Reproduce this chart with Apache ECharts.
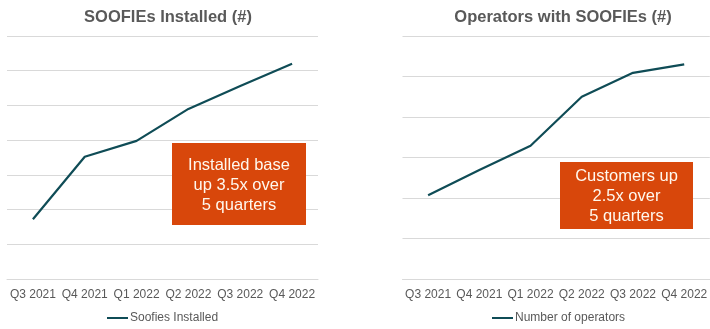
<!DOCTYPE html>
<html>
<head>
<meta charset="utf-8">
<script src="https://cdn.jsdelivr.net/npm/echarts@6/dist/echarts.min.js"></script>
<style>
  html, body { margin: 0; padding: 0; background: #fff; }
  #chart { width: 710px; height: 329px; }
</style>
</head>
<body>
<div id="chart"></div>
<script>
// Quarter labels shared by both panels
const quarters = ['Q3 2021', 'Q4 2021', 'Q1 2022', 'Q2 2022', 'Q3 2022', 'Q4 2022'];

// Installed SOOFIE units per quarter
const soofiesInstalled = [172, 352, 398, 490, 556, 620];

// Operators running SOOFIEs per quarter
const numberOfOperators = [20.7, 26.9, 32.9, 45, 50.9, 53];

const FONT = '"Liberation Sans", Arial, sans-serif';
const GREY = '#595959';
const GRID_LINE = '#d9d9d9';
const TEAL = '#0f4c56';
const ORANGE = '#d8470b';

const chart = echarts.init(document.getElementById('chart'), null, { renderer: 'canvas' });

function xAxis(gridIndex) {
  return {
    type: 'category',
    gridIndex,
    data: quarters,
    boundaryGap: true,
    axisLine: { show: true, lineStyle: { color: GRID_LINE, width: 1 } },
    axisTick: { show: false },
    axisLabel: { color: GREY, fontFamily: FONT, fontSize: 12, margin: 10, interval: 0 }
  };
}

function yAxis(gridIndex, max, interval) {
  return {
    type: 'value',
    gridIndex,
    min: 0,
    max,
    interval,
    axisLine: { show: false },
    axisTick: { show: false },
    axisLabel: { show: false },
    splitLine: { show: true, lineStyle: { color: GRID_LINE, width: 1 } }
  };
}

function calloutBox(x, y, w, h, lines) {
  return {
    type: 'group',
    left: x,
    top: y,
    z: 100,
    children: [
      { type: 'rect', z: 100, shape: { x: 0, y: 0, width: w, height: h }, style: { fill: ORANGE } },
      {
        type: 'text',
        z: 101,
        x: w / 2,
        y: h / 2 + 1,
        style: {
          text: lines.join('\n'),
          fill: '#fff8ee',
          font: '16.5px ' + FONT,
          lineHeight: 20,
          align: 'center',
          verticalAlign: 'middle'
        }
      }
    ]
  };
}

function legend(name, left) {
  return {
    data: [name],
    left, top: 312,
    padding: 0,
    icon: 'rect', itemWidth: 21, itemHeight: 2, itemGap: 0,
    textStyle: { color: GREY, fontFamily: FONT, fontSize: 12, padding: [0, 0, 0, -3] }
  };
}

chart.setOption({
  animation: false,
  backgroundColor: '#ffffff',
  title: [
    {
      text: 'SOOFIEs Installed (#)',
      left: 163, top: 4, textAlign: 'center',
      textStyle: { color: GREY, fontFamily: FONT, fontSize: 16.5, fontWeight: 'bold' }
    },
    {
      text: 'Operators with SOOFIEs (#)',
      left: 558, top: 4, textAlign: 'center',
      textStyle: { color: GREY, fontFamily: FONT, fontSize: 16.5, fontWeight: 'bold' }
    }
  ],
  legend: [legend('Soofies Installed', 107), legend('Number of operators', 492)],
  grid: [
    { left: 7, top: 36, width: 311, height: 243 },
    { left: 402.5, top: 36, width: 310, height: 243 }
  ],
  xAxis: [xAxis(0), xAxis(1)],
  yAxis: [yAxis(0, 700, 100), yAxis(1, 60, 10)],
  series: [
    {
      name: 'Soofies Installed',
      type: 'line',
      xAxisIndex: 0, yAxisIndex: 0,
      data: soofiesInstalled,
      symbol: 'none',
      lineStyle: { color: TEAL, width: 2.2 },
      itemStyle: { color: TEAL }
    },
    {
      name: 'Number of operators',
      type: 'line',
      xAxisIndex: 1, yAxisIndex: 1,
      data: numberOfOperators,
      symbol: 'none',
      lineStyle: { color: TEAL, width: 2.2 },
      itemStyle: { color: TEAL }
    }
  ],
  graphic: [
    calloutBox(172, 143, 134, 82, ['Installed base', 'up 3.5x over', '5 quarters']),
    calloutBox(560, 162, 133, 67, ['Customers up', '2.5x over', '5 quarters'])
  ]
});
</script>
</body>
</html>
